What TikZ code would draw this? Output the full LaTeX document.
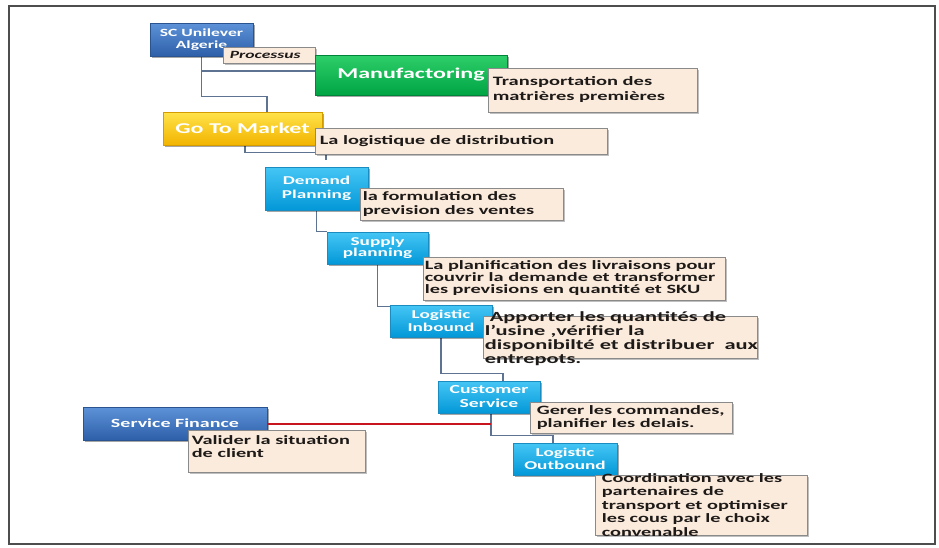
\documentclass[tikz,border=0pt]{standalone}
\usepackage{fontspec}
\setmainfont{Carlito}[FakeStretch=1.6]
\usetikzlibrary{shadows,backgrounds}
\definecolor{connc}{HTML}{5E7391}
\definecolor{redc}{HTML}{C8141E}
\definecolor{tanfill}{HTML}{FBEBDD}
\definecolor{tanline}{HTML}{8A8A8A}
\definecolor{tantext}{HTML}{1E1A18}
\definecolor{cyantop}{HTML}{45C6F5}
\definecolor{cyanbot}{HTML}{0398D8}
\definecolor{cyanline}{HTML}{1A8CC0}
\definecolor{bluetop}{HTML}{5E92D8}
\definecolor{bluebot}{HTML}{2C5FA8}
\definecolor{blueline}{HTML}{2A5490}
\definecolor{greentop}{HTML}{2ECF6A}
\definecolor{greenbot}{HTML}{00A443}
\definecolor{greenline}{HTML}{00843A}
\definecolor{yeltop}{HTML}{FFE34A}
\definecolor{yelbot}{HTML}{F2B400}
\definecolor{yelline}{HTML}{D49C00}
\definecolor{framec}{HTML}{4D4D4D}
\tikzset{
  boxshadow/.style={drop shadow={shadow xshift=2pt,shadow yshift=-2pt,fill=black,opacity=0.35}},
  colbox/.style={boxshadow,inner sep=0pt,align=center,text=white,line width=0.6pt,
    font=\fontsize{12}{13.5}\selectfont\bfseries},
  cyanbox/.style={colbox,top color=cyantop,bottom color=cyanbot,draw=cyanline},
  bluebox/.style={colbox,top color=bluetop,bottom color=bluebot,draw=blueline},
  greenbox/.style={colbox,top color=greentop,bottom color=greenbot,draw=greenline},
  yelbox/.style={colbox,top color=yeltop,bottom color=yelbot,draw=yelline},
  tanbox/.style={fill=tanfill,draw=tanline,line width=0.8pt,inner sep=0pt,
    drop shadow={shadow xshift=1.5pt,shadow yshift=-1.5pt,fill=black,opacity=0.25}},
  tantxt/.style={anchor=west,inner sep=0pt,align=left,text=tantext,
    font=\fontsize{12.7}{12.5}\selectfont\bfseries},
  conn/.style={draw=connc,line width=1.3pt},
  redline/.style={draw=redc,line width=2pt},
  framebox/.style={draw=framec,line width=1.6pt}
}
\begin{document}
\begin{tikzpicture}[x=1pt,y=-1pt]
\useasboundingbox (0,0) rectangle (939,547);

% SC Unilever
\node[bluebox,minimum width=103pt,minimum height=33pt,font=\fontsize{11}{11.5}\selectfont\bfseries] (sc) at (201.5,39.5) {SC Unilever\\Algerie};
\node[tanbox,minimum width=92pt,minimum height=16pt] (proc) at (269,55) {};
\node[anchor=west,inner sep=0pt,text=tantext,font=\fontsize{11}{12}\selectfont\bfseries\itshape] (proct) at ([xshift=7pt]proc.west) {Processus};

% Manufactoring
\node[greenbox,minimum width=192pt,minimum height=40pt,font=\fontsize{15}{16}\selectfont\bfseries] (manu) at (411,75) {Manufactoring};
\node[tanbox,minimum width=209pt,minimum height=44pt] (transp) at (592.5,90) {};
\node[tantxt,font=\fontsize{12.8}{15}\selectfont\bfseries] (transpt) at ([xshift=5pt]transp.west) {Transportation des\\matrières premières};

% Go To Market
\node[yelbox,minimum width=159pt,minimum height=33pt,font=\fontsize{15}{16}\selectfont\bfseries] (gtm) at (242.5,128.5) {Go To Market};
\node[tanbox,minimum width=292pt,minimum height=26pt] (logi) at (461,141) {};
\node[tantxt] (logit) at ([xshift=5pt]logi.west) {La logistique de distribution};

% Demand Planning
\node[cyanbox,minimum width=103pt,minimum height=43pt] (dp) at (316.5,188.5) {Demand\\Planning};
\node[tanbox,minimum width=203pt,minimum height=32pt] (form) at (461.5,204) {};
\node[tantxt,font=\fontsize{12.7}{14}\selectfont\bfseries] (formt) at ([xshift=3pt]form.west) {la formulation des\\prevision des ventes};

% Supply planning
\node[cyanbox,minimum width=101pt,minimum height=32pt,font=\fontsize{12}{11}\selectfont\bfseries] (sp) at (377.5,248) {Supply\\planning};
\node[tanbox,minimum width=302pt,minimum height=43pt] (plan) at (574,278.5) {};
\node[tantxt,font=\fontsize{12.7}{12}\selectfont\bfseries] (plant) at ([xshift=2pt]plan.west) {La planification des livraisons pour\\couvrir la demande et transformer\\les previsions en quantité et SKU};

% Logistic Inbound
\node[cyanbox,minimum width=102pt,minimum height=32pt,font=\fontsize{12}{13}\selectfont\bfseries] (lin) at (441,321) {Logistic\\Inbound};
\node[tanbox,minimum width=274pt,minimum height=42pt] (app) at (620,337) {};
\node[tantxt,font=\fontsize{14}{14}\selectfont\bfseries] (appt) at ([xshift=2pt,yshift=-2pt]app.west) {\ Apporter les quantités de\\l'usine ,vérifier la\\disponibilté et distribuer\ \ aux\\entrepots.};

% Customer Service
\node[cyanbox,minimum width=102pt,minimum height=32pt,font=\fontsize{12.3}{14}\selectfont\bfseries] (cs) at (489,397) {Customer\\Service};
\node[tanbox,minimum width=202pt,minimum height=31pt] (ger) at (631,417.5) {};
\node[tantxt,font=\fontsize{12.7}{13}\selectfont\bfseries] (gert) at ([xshift=7pt]ger.west) {Gerer les commandes,\\planifier les delais.};

% Logistic Outbound
\node[cyanbox,minimum width=104pt,minimum height=32pt,font=\fontsize{12}{13}\selectfont\bfseries] (lout) at (565,459) {Logistic\\Outbound};
\node[tanbox,minimum width=212pt,minimum height=60pt] (coord) at (701,505) {};
\begin{scope}
\clip (0,0) rectangle (939,537);
\node[tantxt,font=\fontsize{12.7}{13.5}\selectfont\bfseries] (coordt) at ([xshift=7pt]coord.west) {Coordination avec les\\partenaires de\\transport et optimiser\\les cous par le choix\\convenable};
\end{scope}

% Service Finance
\node[bluebox,minimum width=184pt,minimum height=33pt,font=\fontsize{12.5}{13}\selectfont\bfseries] (sf) at (175,423.5) {Service Finance};
\node[tanbox,minimum width=177pt,minimum height=42pt] (val) at (276.5,451) {};
\node[tantxt,font=\fontsize{12.7}{13}\selectfont\bfseries] (valt) at ([xshift=4pt,yshift=4pt]val.west) {Valider la situation\\de client};

\coordinate (csb) at ([xshift=2pt]cs.south);
\begin{pgfonlayer}{background}
\fill[white] (0,0) rectangle (939,547);
\draw[framebox] (9,6) rectangle (935,544);
\draw[conn] (sc.south) |- ([yshift=4pt]manu.west);
\draw[conn] (sc.south) -- ++(0,40) -| ([xshift=24.5pt]gtm.north);
\draw[conn] ([xshift=2.5pt]gtm.south) -- ++(0,7) -| ([xshift=9.5pt,yshift=7pt]dp.north);
\draw[conn] (dp.south) |- (sp.north west);
\draw[conn] (sp.south) |- ([yshift=-2pt]lin.north west);
\draw[conn] (lin.south) -- ++(0,36) -| ([xshift=14pt]cs.north);
\draw[conn] (csb) -- ++(0,22) -| ([xshift=-12pt]lout.north);
\end{pgfonlayer}
\draw[redline] (sf.east) -- (sf.east -| csb);
\end{tikzpicture}
\end{document}
